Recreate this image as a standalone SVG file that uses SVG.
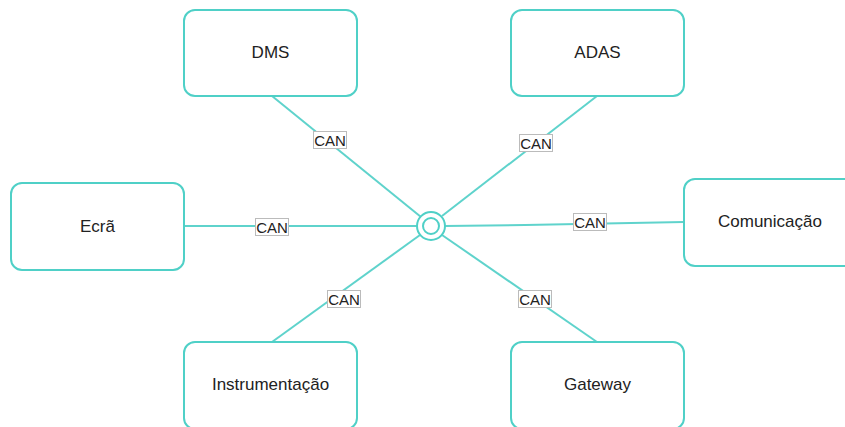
<svg xmlns="http://www.w3.org/2000/svg" width="845" height="427" viewBox="0 0 845 427">
  <style>
    .node rect { fill: #ffffff; stroke: #4fd0c7; stroke-width: 2; }
    .node text { font-family: "Liberation Sans", Arial, sans-serif; font-size: 17px; fill: #222222; text-anchor: middle; dominant-baseline: central; }
    .link { stroke: #5fd3cc; stroke-width: 2; fill: none; }
    .lbl rect { fill: #ffffff; stroke: #bbbbbb; stroke-width: 1; }
    .lbl text { font-family: "Liberation Sans", Arial, sans-serif; font-size: 15px; fill: #222222; text-anchor: middle; dominant-baseline: central; }
  </style>
  <rect width="845" height="427" fill="#ffffff"/>

  <g id="connectors">
    <line class="link" x1="272" y1="96" x2="421" y2="217"/>
    <line class="link" x1="597" y1="96" x2="442" y2="216"/>
    <line class="link" x1="184" y1="226" x2="417" y2="226"/>
    <polyline class="link" points="445,226 525,225 684,222"/>
    <line class="link" x1="272" y1="342" x2="420" y2="235"/>
    <line class="link" x1="597" y1="342" x2="442" y2="235"/>
    <g class="lbl"><rect x="313.5" y="131.5" width="33" height="17"/><text x="330" y="140.5">CAN</text></g>
    <g class="lbl"><rect x="519.5" y="134.5" width="33" height="17"/><text x="536" y="143.5">CAN</text></g>
    <g class="lbl"><rect x="255.5" y="218.5" width="33" height="17"/><text x="272" y="227.5">CAN</text></g>
    <g class="lbl"><rect x="573.5" y="213.5" width="33" height="17"/><text x="590" y="222.5">CAN</text></g>
    <g class="lbl"><rect x="327.5" y="290.5" width="33" height="17"/><text x="344" y="299.5">CAN</text></g>
    <g class="lbl"><rect x="518.5" y="290.5" width="33" height="17"/><text x="535" y="299.5">CAN</text></g>
  </g>

  <g id="hub">
    <circle cx="431" cy="226" r="14" fill="#ffffff" stroke="#4fd0c7" stroke-width="2"/>
    <circle cx="431" cy="226" r="8" fill="#ffffff" stroke="#4fd0c7" stroke-width="2"/>
  </g>

  <g id="dms" class="node"><rect x="184" y="10" width="173" height="86" rx="11"/><text x="270.5" y="52">DMS</text></g>
  <g id="adas" class="node"><rect x="511" y="10" width="173" height="86" rx="11"/><text x="597.5" y="52">ADAS</text></g>
  <g id="ecra" class="node"><rect x="11" y="183" width="173" height="87" rx="11"/><text x="97.5" y="226">Ecrã</text></g>
  <g id="comunicacao" class="node"><rect x="684" y="179" width="173" height="87" rx="11"/><text x="770" y="221">Comunicação</text></g>
  <g id="instrumentacao" class="node"><rect x="184" y="342" width="173" height="87" rx="11"/><text x="270.5" y="384">Instrumentação</text></g>
  <g id="gateway" class="node"><rect x="511" y="342" width="173" height="87" rx="11"/><text x="597.5" y="384">Gateway</text></g>
</svg>
